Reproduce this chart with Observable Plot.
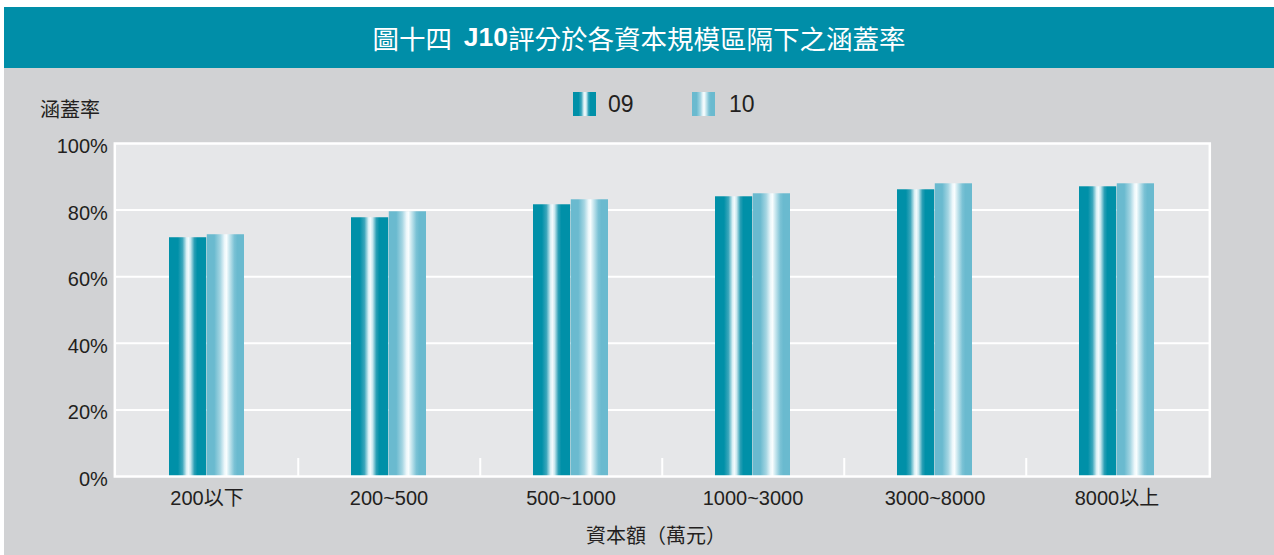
<!DOCTYPE html>
<html>
<head>
<meta charset="utf-8">
<script src="https://cdn.jsdelivr.net/npm/d3@7"></script>
<script src="https://cdn.jsdelivr.net/npm/@observablehq/plot@0.6"></script>
<style>
  body { margin: 0; background: #ffffff; font-family: "Liberation Sans", "Noto Sans CJK TC", sans-serif; }
  #wrap { position: relative; width: 1274px; height: 555px; overflow: hidden; }
  #title { position: absolute; left: 4px; top: 7px; width: 1270px; height: 61px; background: #008ea8; color: #ffffff;
           display: flex; align-items: center; justify-content: center; font-family: "Noto Sans CJK TC", sans-serif; font-size: 26.5px; }
  #title b { font-family: "Liberation Sans", sans-serif; font-weight: bold; }
  #panel { position: absolute; left: 4px; top: 68px; width: 1270px; height: 487px; background: #d1d2d4; }
  #panel svg { position: absolute; left: 0; top: 0; }
  .sw { position: absolute; width: 23px; height: 24px; }
  .lt { position: absolute; font-size: 23px; color: #231f20; line-height: 24px; }
  #ylab { position: absolute; left: 36px; top: 29px; font-size: 20px; color: #231f20; font-family: "Noto Sans CJK TC", sans-serif; line-height: 24px; }
  #xlab { position: absolute; left: 0; width: 1304px; text-align: center; top: 454px; font-size: 20px; color: #231f20; font-family: "Noto Sans CJK TC", sans-serif; line-height: 26px; }
</style>
</head>
<body>
<div id="wrap">
  <div id="title"></div>
  <div id="panel">
    <div id="legend"></div>
    <div id="ylab"></div>
    <div id="xlab"></div>
  </div>
</div>
<script>
const titleMain = "圖十四";
const titleBold = "J10";
const titleRest = "評分於各資本規模區隔下之涵蓋率";
const yTitle = "涵蓋率";
const xTitle = "資本額（萬元）";
const categories = ["200以下", "200~500", "500~1000", "1000~3000", "3000~8000", "8000以上"];
const seriesNames = ["09", "10"];
const values09 = [71.7, 77.7, 81.6, 84.0, 86.1, 87.0];
const values10 = [72.6, 79.5, 83.1, 84.9, 87.9, 87.9];
const yTicks = [0, 20, 40, 60, 80, 100];
const yTickLabels = ["0%", "20%", "40%", "60%", "80%", "100%"];

const gradients = {
  "09": [[0, "#0090a8"], [0.24, "#0090a8"], [0.36, "#3aa6bb"], [0.47, "#d8eff4"], [0.52, "#f4fbfd"], [0.58, "#c8e7ee"], [0.68, "#2c9fb5"], [0.76, "#0090a8"], [1, "#0090a8"]],
  "10": [[0, "#6abacf"], [0.2, "#6abacf"], [0.36, "#a4d5e2"], [0.48, "#eef8fb"], [0.53, "#f8fdfe"], [0.6, "#cde9f0"], [0.74, "#7bc2d5"], [0.82, "#6abacf"], [1, "#6abacf"]]
};

// Title
const t = document.getElementById("title");
t.innerHTML = titleMain + "&nbsp;&nbsp;<b>" + titleBold + "</b>" + titleRest;
document.getElementById("ylab").textContent = yTitle;
document.getElementById("xlab").textContent = xTitle;

// Legend
const legend = document.getElementById("legend");
const legendPos = [[569, 604], [688, 725]];
seriesNames.forEach((s, i) => {
  const sw = document.createElement("div");
  sw.className = "sw";
  sw.style.left = legendPos[i][0] + "px";
  sw.style.top = "24px";
  sw.style.background = "linear-gradient(to right," + gradients[s].map(([o, c]) => c + " " + (o * 100) + "%").join(",") + ")";
  legend.appendChild(sw);
  const lt = document.createElement("div");
  lt.className = "lt";
  lt.style.left = legendPos[i][1] + "px";
  lt.style.top = "24px";
  lt.textContent = s;
  legend.appendChild(lt);
});

const data09 = categories.map((c, i) => ({cat: c, v: values09[i]}));
const data10 = categories.map((c, i) => ({cat: c, v: values10[i]}));

const W = 1270, H = 487;
const mL = 110.3, mR = 64.7, mT = 75, mB = 79;
const plotW = W - mL - mR;
const plotH = H - mT - mB;
const pInner = 0.586, pOuter = pInner / 2;
const step = plotW / (categories.length - pInner + 2 * pOuter);
const bw = step * (1 - pInner);

const chart = Plot.plot({
  width: W,
  height: H,
  marginLeft: mL,
  marginRight: mR,
  marginTop: mT,
  marginBottom: mB,
  style: {background: "none", fontFamily: "'Liberation Sans', 'Noto Sans CJK TC', sans-serif", fontSize: "20px", color: "#231f20"},
  x: {domain: categories, paddingInner: pInner, paddingOuter: pOuter, label: null, tickSize: 0, tickPadding: 14},
  y: {domain: [0, 100], ticks: yTicks, tickFormat: d => yTickLabels[yTicks.indexOf(d)], label: null, tickSize: 0, tickPadding: 7},
  marks: [
    Plot.frame({fill: "#e6e7e9", stroke: "none"}),
    Plot.ruleY(yTicks.slice(1, -1), {stroke: "#ffffff", strokeWidth: 2}),
    Plot.ruleX(categories.slice(0, -1), {dx: step / 2, insetTop: plotH - 18, stroke: "#ffffff", strokeWidth: 2}),
    Plot.barY(data09, {x: "cat", y: "v", fill: "url(#grad09)", insetRight: bw / 2}),
    Plot.barY(data10, {x: "cat", y: "v", fill: "url(#grad10)", insetLeft: bw / 2}),
    Plot.frame({stroke: "#ffffff", strokeWidth: 2.5})
  ]
});

// Gradient definitions
const svg = d3.select(chart);
const defs = svg.insert("defs", ":first-child");
seriesNames.forEach(s => {
  const g = defs.append("linearGradient").attr("id", "grad" + s)
    .attr("x1", "0").attr("x2", "1").attr("y1", "0").attr("y2", "0");
  gradients[s].forEach(([o, c]) => g.append("stop").attr("offset", o).attr("stop-color", c));
});

// nudge y tick labels slightly below their gridlines, as in the reference
svg.selectAll("g[aria-label^='y-axis']").each(function () {
  const g = d3.select(this);
  g.attr("transform", ((g.attr("transform") || "") + " translate(0,3)").trim());
});

document.getElementById("panel").appendChild(chart);
</script>
</body>
</html>
